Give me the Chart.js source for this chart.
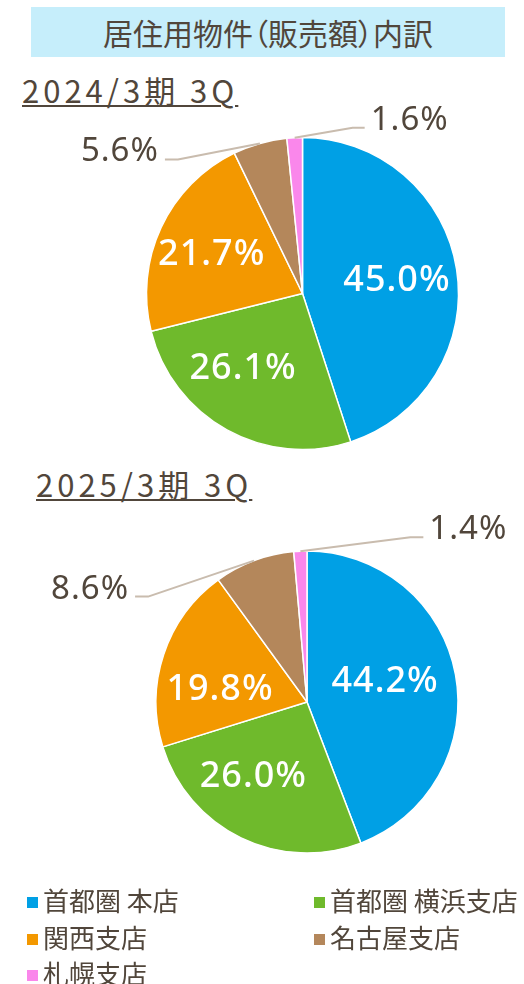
<!DOCTYPE html>
<html lang="ja">
<head>
<meta charset="utf-8">
<title>居住用物件（販売額）内訳</title>
<script src="https://cdn.jsdelivr.net/npm/chart.js@4.4.1/dist/chart.umd.min.js"></script>
<style>
  html, body { margin: 0; padding: 0; background: #fff; }
  body {
    width: 524px; height: 984px; position: relative; overflow: hidden;
    font-family: "Noto Sans CJK JP", "Noto Sans", sans-serif;
    color: #51463b;
  }
  #title {
    position: absolute; left: 31px; top: 7px; width: 474px; height: 50px;
    background: #c6eefb; text-align: center; line-height: 50px; font-size: 30px;
    font-feature-settings: "palt";
  }
  .period {
    position: absolute; font-size: 31px; line-height: 30px; letter-spacing: 4px;
    text-decoration: underline; text-decoration-thickness: 2px; text-underline-offset: 2px;
    white-space: nowrap;
  }
  canvas { position: absolute; left: 0; top: 0; }
  .legend-item {
    position: absolute; font-size: 26px; line-height: 36px; white-space: nowrap;
  }
  .legend-item i {
    display: inline-block; width: 11px; height: 11px; margin-right: 5px; vertical-align: 3px;
  }
</style>
</head>
<body>
<div id="title">居住用物件（販売額）内訳</div>
<div class="period" id="period1" style="left:22px; top:75px;"></div>
<div class="period" id="period2" style="left:36px; top:469px;"></div>
<canvas id="pie2024" width="524" height="984"></canvas>
<canvas id="pie2025" width="524" height="984"></canvas>
<div id="legend"></div>

<script>
// ===== データ =====
const categories = ['首都圏 本店', '首都圏 横浜支店', '関西支店', '名古屋支店', '札幌支店'];
const share2024 = [45.0, 26.1, 21.7, 5.6, 1.6];
const share2025 = [44.2, 26.0, 19.8, 8.6, 1.4];
const periodLabels = ['2024/3期 3Q', '2025/3期 3Q'];
// ==================

const sliceColors = ['#00a0e5', '#6fba2c', '#f39800', '#b4875b', '#fa87eb'];
const textColor = '#51463b';
const leaderColor = '#c9bcae';

document.getElementById('period1').textContent = periodLabels[0];
document.getElementById('period2').textContent = periodLabels[1];

// レジェンド (2列)
const legendPos = [[27, 882], [314, 882], [27, 919], [314, 919], [27, 955]];
const legendEl = document.getElementById('legend');
categories.forEach((name, i) => {
    const item = document.createElement('div');
    item.className = 'legend-item';
    item.style.left = legendPos[i][0] + 'px';
    item.style.top = legendPos[i][1] + 'px';
    item.innerHTML = `<i style="background:${sliceColors[i]}"></i>`;
    item.appendChild(document.createTextNode(name));
    legendEl.appendChild(item);
});

// ラベル描画プラグイン (内側ラベル + 引き出し線ラベル)
const pieLabels = {
    id: 'pieLabels',
    afterDatasetsDraw(chart, args, opts) {
        const ctx = chart.ctx;
        const meta = chart.getDatasetMeta(0);
        const values = chart.data.datasets[0].data;
        meta.data.forEach((arc, i) => {
            const text = values[i].toFixed(1) + '%';
            const mid = (arc.startAngle + arc.endAngle) / 2;
            const callout = opts.callouts[i];
            ctx.save();
            if (callout) {
                const ax = arc.x + Math.cos(mid) * arc.outerRadius;
                const ay = arc.y + Math.sin(mid) * arc.outerRadius;
                const ex = ax + callout.dx;
                const ey = ay + callout.dy;
                const tx = ex + callout.tail;
                ctx.strokeStyle = leaderColor;
                ctx.lineWidth = 2;
                ctx.lineJoin = 'round';
                ctx.beginPath();
                ctx.moveTo(ax, ay);
                ctx.lineTo(ex, ey);
                ctx.lineTo(tx, ey);
                ctx.stroke();
                ctx.fillStyle = textColor;
                ctx.font = '33px "Noto Sans", sans-serif';
                ctx.letterSpacing = '1px';
                ctx.textAlign = callout.tail < 0 ? 'right' : 'left';
                ctx.textBaseline = 'alphabetic';
                ctx.fillText(text, tx + (callout.tail < 0 ? -6 : 6), ey + 2);
            } else {
                const r = arc.outerRadius * 0.6;
                const nudge = opts.nudges[i] || [0, 0];
                const cx = arc.x + Math.cos(mid) * r + nudge[0];
                const cy = arc.y + Math.sin(mid) * r + nudge[1];
                const size = 36;
                ctx.fillStyle = '#ffffff';
                ctx.font = '500 ' + size + 'px "Noto Sans", sans-serif';
                ctx.letterSpacing = '1px';
                ctx.textAlign = 'center';
                ctx.textBaseline = 'alphabetic';
                ctx.fillText(text, cx, cy + size * 0.357);
            }
            ctx.restore();
        });
    }
};

function makePie(canvasId, values, padding, radius, callouts, nudges) {
    return new Chart(document.getElementById(canvasId), {
        type: 'pie',
        data: {
            labels: categories,
            datasets: [{
                data: values,
                backgroundColor: sliceColors,
                borderColor: '#ffffff',
                borderWidth: 1.5
            }]
        },
        options: {
            responsive: false,
            animation: false,
            radius: radius,
            layout: { padding: padding },
            plugins: {
                legend: { display: false },
                tooltip: { enabled: false },
                pieLabels: { callouts: callouts, nudges: nudges }
            }
        },
        plugins: [pieLabels]
    });
}

makePie('pie2024', share2024,
    { left: 146.5, right: 65.5, top: 137.5, bottom: 534.5 }, 156,
    { 3: { dx: -82, dy: 16, tail: -13 }, 4: { dx: 58, dy: -10, tail: 12 } },
    { 0: [2, -1], 1: [-14, -9], 2: [-6, -2] });

makePie('pie2025', share2025,
    { left: 156, right: 66, top: 551, bottom: 131 }, 151,
    { 3: { dx: -106, dy: 36, tail: -13 }, 4: { dx: 110, dy: -14, tail: 13 } },
    { 0: [-11, -6], 1: [-14, -9], 2: [-1, 14] });
</script>
</body>
</html>
